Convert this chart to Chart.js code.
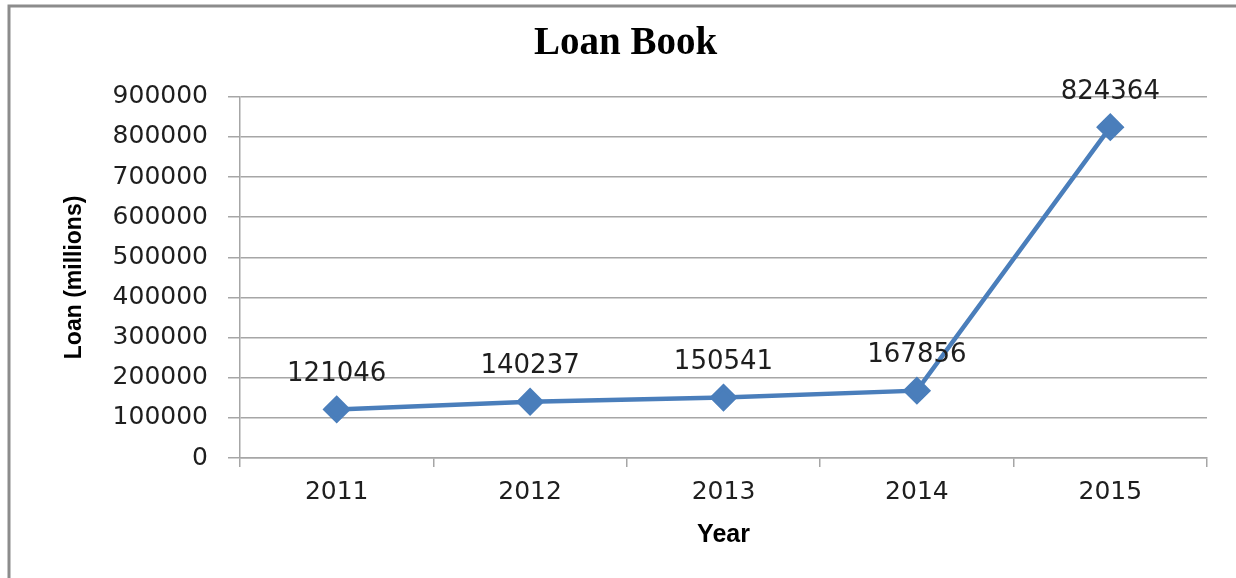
<!DOCTYPE html>
<html>
<head>
<meta charset="utf-8">
<title>Loan Book</title>
<script src="https://cdn.jsdelivr.net/npm/chart.js@4.4.1/dist/chart.umd.min.js"></script>
<style>
  html, body { margin: 0; padding: 0; background: #fff; }
  #wrap { position: relative; width: 1236px; height: 578px; }
</style>
</head>
<body>
<div id="wrap"><canvas id="loanChart"></canvas></div>
<script>
// Loan book by year (millions)
const years = ["2011", "2012", "2013", "2014", "2015"];
const loans = [121046, 140237, 150541, 167856, 824364];

// Value axis range
const Y_MIN = 0;
const Y_MAX = 900000;
const Y_STEP = 100000;

const LINE_BLUE = "#4a7ebb";
const GRID_GREY = "#a6a6a6";
const TEXT_DARK = "#1e1e1e";

// Grey frame along the top and left edge
const framePlugin = {
    id: "frame",
    beforeDraw(chart) {
        const ctx = chart.ctx;
        ctx.save();
        ctx.fillStyle = "#fff";
        ctx.fillRect(0, 0, chart.width, chart.height);
        ctx.strokeStyle = "#8c8c8c";
        ctx.lineWidth = 3;
        ctx.beginPath();
        ctx.moveTo(9, chart.height);
        ctx.lineTo(9, 6);
        ctx.lineTo(chart.width, 6);
        ctx.stroke();
        ctx.restore();
    }
};

// Value labels above each point
const valueLabels = {
    id: "valueLabels",
    afterDatasetsDraw(chart) {
        const ctx = chart.ctx;
        const meta = chart.getDatasetMeta(0);
        const data = chart.data.datasets[0].data;
        ctx.save();
        ctx.font = "26px 'DejaVu Sans'";
        ctx.fillStyle = TEXT_DARK;
        ctx.textAlign = "center";
        ctx.textBaseline = "middle";
        meta.data.forEach((pt, i) => {
            ctx.fillText(String(data[i]), pt.x, pt.y - 35);
        });
        ctx.restore();
    }
};

function initializeChart() {
    const ctx = document.getElementById("loanChart").getContext("2d");

    new Chart(ctx, {
        type: "line",
        data: {
            labels: years,
            datasets: [{
                label: "Loan",
                data: loans,
                borderColor: LINE_BLUE,
                backgroundColor: LINE_BLUE,
                borderWidth: 4.5,
                pointStyle: "rectRot",
                pointRadius: 11,
                pointHoverRadius: 11,
                pointBackgroundColor: LINE_BLUE,
                pointBorderColor: LINE_BLUE,
                tension: 0,
                fill: false
            }]
        },
        options: {
            responsive: true,
            maintainAspectRatio: false,
            animation: false,
            layout: { padding: { top: 0, left: 44, right: 29, bottom: 0 } },
            plugins: {
                legend: { display: false },
                tooltip: { enabled: false },
                title: {
                    display: true,
                    text: "Loan Book",
                    color: "#000",
                    font: { family: "'Liberation Serif'", size: 39, weight: "bold" },
                    padding: { top: 21, bottom: 29 }
                }
            },
            scales: {
                x: {
                    offset: true,
                    grid: {
                        drawOnChartArea: false,
                        offset: true,
                        tickLength: 9,
                        color: GRID_GREY,
                        lineWidth: 1.5
                    },
                    border: { color: GRID_GREY, width: 1.5 },
                    ticks: {
                        color: TEXT_DARK,
                        font: { family: "'DejaVu Sans'", size: 25 },
                        padding: 10,
                        maxRotation: 0
                    },
                    title: {
                        display: true,
                        text: "Year",
                        color: "#000",
                        font: { family: "'Liberation Sans'", size: 25, weight: "bold" },
                        padding: { top: 0, bottom: 28 }
                    },
                    afterFit(scale) { scale.height = 120; }
                },
                y: {
                    min: Y_MIN,
                    max: Y_MAX,
                    grid: {
                        color: GRID_GREY,
                        lineWidth: 1.5,
                        tickLength: 12
                    },
                    border: { color: GRID_GREY, width: 1.5 },
                    ticks: {
                        stepSize: Y_STEP,
                        color: TEXT_DARK,
                        font: { family: "'DejaVu Sans'", size: 25 },
                        padding: 20,
                        callback: v => String(v)
                    },
                    title: {
                        display: true,
                        text: "Loan (millions)",
                        color: "#000",
                        font: { family: "'Liberation Sans'", size: 23, weight: "bold" },
                        padding: { top: 17, bottom: 0 }
                    },
                    afterFit(scale) { scale.width = 196; }
                }
            }
        },
        plugins: [framePlugin, valueLabels]
    });
}

document.addEventListener("DOMContentLoaded", initializeChart);
</script>
</body>
</html>
